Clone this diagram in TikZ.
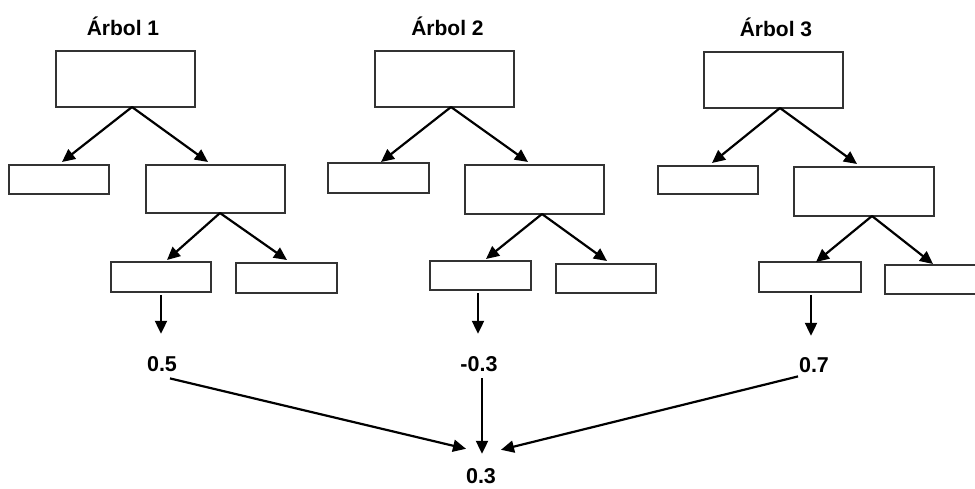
\documentclass[tikz,border=0pt]{standalone}
\usepackage{fontspec}
\setmainfont{Liberation Sans}
\usetikzlibrary{arrows.meta}

% one box of a tree: name, top-left corner, bottom-right corner
\newcommand\treebox[5]{%
  \node[box, minimum width={#4-#2}, minimum height={#5-#3}] (#1) at (#2,#3) {};}

\begin{document}
\begin{tikzpicture}[x=1pt, y=-1pt,
  box/.style={draw=black!80, line width=1.7pt, rectangle, inner sep=0pt,
              outer sep=0pt, anchor=north west},
  arr/.style={draw=black, line width=2.2pt,
              -{Triangle[length=13pt, width=12pt]}},
  title/.style={font=\bfseries\fontsize{21}{24}\selectfont, anchor=base, inner sep=0pt},
  value/.style={font=\bfseries\fontsize{21.5}{24}\selectfont, anchor=base, inner sep=0pt}]

\useasboundingbox (0,0) rectangle (975,488);
\clip (0,0) rectangle (975,488);

% ---------- tree 1 ----------
\node[title] (t1) at (123,35) {Árbol 1};
\treebox{r1}{56}{51}{195}{107}
\treebox{a1}{9}{165}{109}{194}
\treebox{b1}{146}{165}{285}{213}
\treebox{c1}{111}{262}{211}{292}
\treebox{d1}{236}{263}{337}{293}
\draw[arr] ([shift={(6.5,0)}]r1.south) -- ([shift={(3,-3)}]a1.north);
\draw[arr] ([shift={(6.5,0)}]r1.south) -- ([shift={(-7.5,-3)}]b1.north);
\draw[arr] ([shift={(4.5,0)}]b1.south) -- ([shift={(6,-2)}]c1.north);
\draw[arr] ([shift={(4.5,0)}]b1.south) -- ([shift={(0.5,-3)}]d1.north);

% ---------- tree 2 ----------
\node[title] (t2) at (447.5,35) {Árbol 2};
\treebox{r2}{375}{51}{514}{107}
\treebox{a2}{328}{163}{429}{193}
\treebox{b2}{465}{165}{604}{214}
\treebox{c2}{430}{261}{531}{290}
\treebox{d2}{556}{264}{656}{293}
\draw[arr] ([shift={(6.5,0)}]r2.south) -- ([shift={(2.5,-1)}]a2.north);
\draw[arr] ([shift={(6.5,0)}]r2.south) -- ([shift={(-6.5,-3)}]b2.north);
\draw[arr] ([shift={(7.5,0)}]b2.south) -- ([shift={(5.5,-2)}]c2.north);
\draw[arr] ([shift={(7.5,0)}]b2.south) -- ([shift={(1,-3)}]d2.north);

% ---------- tree 3 ----------
\node[title] (t3) at (776,36) {Árbol 3};
\treebox{r3}{704}{52}{843}{108}
\treebox{a3}{658}{166}{758}{194}
\treebox{b3}{794}{167}{934}{216}
\treebox{c3}{759}{262}{861}{292}
\treebox{d3}{885}{265}{986}{294}
\draw[arr] ([shift={(6.5,0)}]r3.south) -- ([shift={(4,-3)}]a3.north);
\draw[arr] ([shift={(6.5,0)}]r3.south) -- ([shift={(-7,-3)}]b3.north);
\draw[arr] ([shift={(8,0)}]b3.south) -- ([shift={(6,0)}]c3.north);
\draw[arr] ([shift={(8,0)}]b3.south) -- ([shift={(-2.5,-1)}]d3.north);

% ---------- leaf outputs and their sum ----------
\node[value] (v1) at (162,371) {0.5};
\node[value] (v2) at (479,371) {-0.3};
\node[value] (v3) at (814,372) {0.7};
\node[value] (v0) at (481,483) {0.3};

\draw[arr, shorten >=22pt] ([shift={(0,3)}]c1.south) -- (c1.south |- v1.north);
\draw[arr, shorten >=22pt] ([shift={(-2.5,3)}]c2.south) -- ([shift={(-2.5,0)}]c2.south |- v2.north);
\draw[arr, shorten >=21pt] ([shift={(1,3)}]c3.south) -- ([shift={(1,0)}]c3.south |- v3.north);

\draw[arr] ([shift={(8,7)}]v1.south) -- ([shift={(-15,-19)}]v0.north);
\draw[arr] ([shift={(3,7)}]v2.south) -- ([shift={(1,-14)}]v0.north);
\draw[arr] ([shift={(-16,4)}]v3.south) -- ([shift={(20,-18)}]v0.north);
\end{tikzpicture}
\end{document}
